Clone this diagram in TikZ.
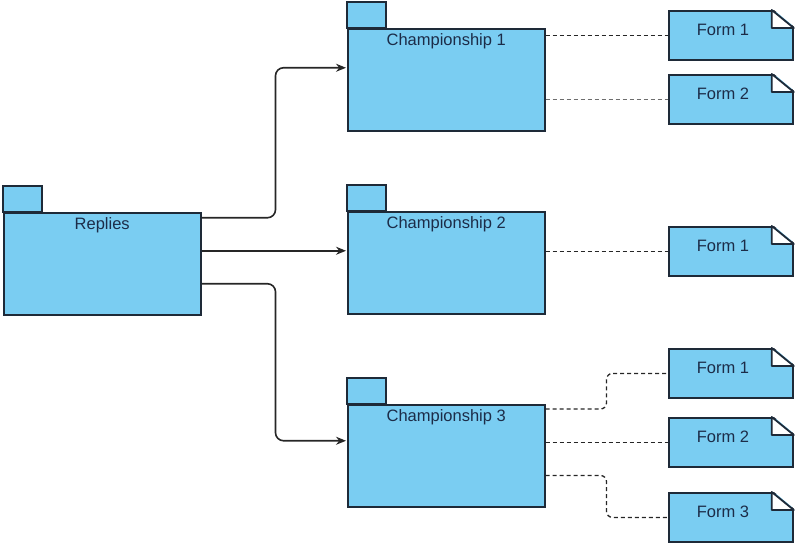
\documentclass[tikz,border=0pt]{standalone}
\usepackage{fontspec}
\setmainfont{Liberation Sans}
\usepackage{tikz}
\usetikzlibrary{arrows.meta, positioning}

\definecolor{pkgblue}{RGB}{122,205,242}
\definecolor{edgedark}{RGB}{30,42,56}
\definecolor{textnavy}{RGB}{28,44,72}
\definecolor{linkgray}{RGB}{110,110,110}

\begin{document}
\begin{tikzpicture}[
    x=1pt, y=-1pt,
    >={Stealth[length=10pt, width=8pt]},
    pkgbox/.style={draw=edgedark, line width=1.5pt, fill=pkgblue, minimum width=197pt, minimum height=102pt, inner sep=0pt, anchor=north west},
    pkgtab/.style={draw=edgedark, line width=1.5pt, fill=pkgblue},
    pkgtext/.style={font=\fontsize{16.5}{18}\selectfont, text=textnavy, inner sep=0pt},
    formbox/.style={draw=edgedark, line width=1.8pt, fill=pkgblue, minimum width=124pt, minimum height=49pt, inner sep=0pt, anchor=north west},
    formtext/.style={font=\fontsize{16.5}{18}\selectfont, text=textnavy},
    flow/.style={->, line width=1.6pt, black!85, rounded corners=8pt, shorten >=1pt},
    link/.style={dashed, dash pattern=on 4pt off 3pt, line width=1.3pt, black!85, rounded corners=6pt},
    graylink/.style={link, linkgray}
]
    \useasboundingbox (0,0) rectangle (796,547);

    % 1. packages
    \node[pkgbox] (rep) at (3,212) {};
    \node[pkgbox] (c1) at (347,28) {};
    \node[pkgbox] (c2) at (347,211) {};
    \node[pkgbox] (c3) at (347,404) {};
    \foreach \p in {rep,c1,c2,c3} {
        \draw[pkgtab] (\p.north west) rectangle ++(39,-26);
    }
    \node[pkgtext, below=5pt of rep.north] (rept) {Replies};
    \node[pkgtext, below=5pt of c1.north] (c1t) {Championship 1};
    \node[pkgtext, below=5pt of c2.north] (c2t) {Championship 2};
    \node[pkgtext, below=5pt of c3.north] (c3t) {Championship 3};

    % 2. forms (notes with folded corner)
    \node[formbox] (f11) at (668,10) {};
    \node[formbox] (f12) at (668,74) {};
    \node[formbox] (f21) at (668,226) {};
    \node[formbox] (f31) at (668,348) {};
    \node[formbox] (f32) at (668,417) {};
    \node[formbox] (f33) at (668,492) {};
    \foreach \f in {f11,f12,f21,f31,f32,f33} {
        \fill[white] ([xshift=-22pt, yshift=2pt]\f.north east) -- ([xshift=2pt, yshift=2pt]\f.north east) -- ([xshift=2pt, yshift=-18pt]\f.north east) -- cycle;
        \draw[edgedark, line width=1.8pt, line join=round, fill=white] ([xshift=-22pt]\f.north east) -- ([yshift=-18pt]\f.north east) -- ([xshift=-22pt, yshift=-18pt]\f.north east) -- cycle;
    }
    \foreach \f/\t in {f11/1, f12/2, f21/1, f31/1, f32/2, f33/3} {
        \node[formtext] (\f t) at ([xshift=-8pt, yshift=5.5pt]\f.center) {Form \t};
    }

    % 3. arrows from Replies
    \draw[flow] ([yshift=46pt]rep.east) -- ++(74,0) |- ([yshift=12pt]c1.west);
    \draw[flow] ([yshift=13pt]rep.east) -- ([yshift=13pt]rep.east -| c2.west);
    \draw[flow] ([yshift=-20pt]rep.east) -- ++(74,0) |- ([yshift=15pt]c3.west);

    % 4. dashed links to forms
    \draw[link] (f11.west -| c1.east) -- (f11.west);
    \draw[graylink] (f12.west -| c1.east) -- (f12.west);
    \draw[link] (f21.west -| c2.east) -- (f21.west);
    \draw[link] ([yshift=-5pt]c3.north east) -- ++(61,0) |- (f31.west);
    \draw[link] (f32.west -| c3.east) -- (f32.west);
    \draw[link] ([yshift=32pt]c3.south east) -- ++(61,0) |- (f33.west);
\end{tikzpicture}
\end{document}
